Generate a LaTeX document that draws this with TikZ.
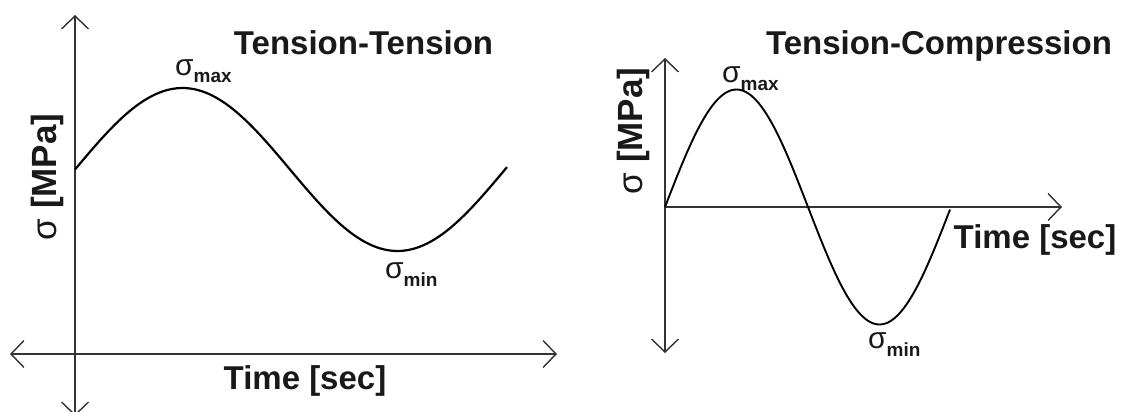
\documentclass[tikz,border=0pt]{standalone}
\usepackage{fontspec}
\setmainfont{Liberation Sans}
\usetikzlibrary{arrows.meta}
\newcommand\lowsub[1]{\raisebox{-8pt}{\fontsize{19}{19}\selectfont\bfseries #1}}
\begin{document}
\begin{tikzpicture}[
      x=1pt, y=-1pt,
      axis/.style={line width=1.4pt, black!80, >={Straight Barb[length=13pt,width=27pt,line width=1.4pt]}},
      wave/.style={line width=2.2pt, black, smooth},
      title/.style={font=\fontsize{33}{33}\selectfont\bfseries, text=black!90, inner sep=0pt, anchor=base},
      axlabel/.style={font=\fontsize{35}{35}\selectfont, text=black!90, inner sep=0pt, anchor=base, rotate=90},
      peak/.style={font=\fontsize{30}{30}\selectfont, text=black!90, inner sep=0pt, anchor=base west}
  ]
    \useasboundingbox (0,0) rectangle (1130,412);

    % Tension-Tension
    \coordinate (tt-top) at (75,15);
    \coordinate (tt-bot) at (75,416);
    \coordinate (tt-left) at (10,354);
    \coordinate (tt-right) at (557,354);
    \draw[axis, <->] (tt-bot) -- (tt-top);
    \draw[axis, <->] (tt-left) -- (tt-right);
    \draw[wave] plot[domain=75:507, samples=120] (\x, {169.5-81.5*sin((\x-75)/430*360)});

    \node[title] (tt-title) at (363.5,55) {Tension-Tension};
    \node[title] (tt-time) at (305,389) {Time [sec]};
    \node[axlabel] (tt-sigma) at (56,177) {σ \textbf{[MPa]}};
    \node[peak] (tt-max) at (175,75) {σ\lowsub{max}};
    \node[peak] (tt-min) at (385,278) {σ\lowsub{min}};

    % Tension-Compression
    \coordinate (tc-top) at (665,58);
    \coordinate (tc-bot) at (665,353);
    \coordinate (tc-origin) at (665,207);
    \coordinate (tc-right) at (1062,207);
    \draw[axis, <->] (tc-bot) -- (tc-top);
    \draw[axis, ->] (tc-origin) -- (tc-right);
    \draw[wave, line width=1.9pt] plot[domain=665:950, samples=120] (\x, {207-117.5*sin((\x-665)/286*360)});

    \node[title] (tc-title) at (939,55) {Tension-Compression};
    \node[title] (tc-time) at (1035,248) {Time [sec]};
    \node[axlabel] (tc-sigma) at (642,131) {σ \textbf{[MPa]}};
    \node[peak] (tc-max) at (722,82) {σ\lowsub{max}};
    \node[peak] (tc-min) at (868,348) {σ\lowsub{min}};
  \end{tikzpicture}
\end{document}
